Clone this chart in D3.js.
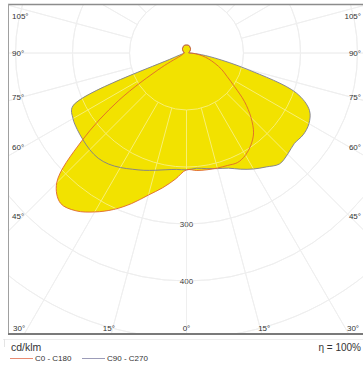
<!DOCTYPE html>
<html><head><meta charset="utf-8">
<script src="https://cdn.jsdelivr.net/npm/d3@7"></script>
<style>
html,body{margin:0;padding:0;background:#fff;}
svg{display:block;font-family:"Liberation Sans",Arial,sans-serif;}
</style></head>
<body>
<svg id="chart" width="363" height="365"></svg>
<script>
// Gamma angles (deg from nadir)
const gammas = [0,5,10,15,20,25,30,35,40,45,50,55,60,65,70,75,80,85,90,
  95,100,105,110,115,120,125,130,135,140,145,150,155,160,165,170,175,180];
// Upper hemisphere (95..180) common values
const upper = [4,4,5,5,6,7,8,9,10,11,11,12,13,13,14,14,14,14];
// C0 (right half of C0-C180)
const c0 = [205,207,208,209,210,212,207,197,183,160,133,103,82,68,53,40,28,16,7].concat(upper);
// C180 (left half of C0-C180)
const c180 = [205,222,240,258,281,303,322,338,344,322,240,145,50,10,7,6,5,5,4].concat(upper);
// C90 (right half of C90-C270)
const c90 = [205,203,206,210,215,225,235,244,254,251,247,250,248,238,205,110,50,20,6].concat(upper);
// C270 (left half of C90-C270)
const c270 = [205,205,208,213,219,225,232,238,241,240,237,234,230,220,25,10,7,6,5].concat(upper);

const ringValues = [100,200,300,400,500];
const ringLabels = ["100","200","300","400","500"];
const sideAngles = [105,90,75,60,45];
const sideLabels = ["105°","90°","75°","60°","45°"];
const bottomAngles = [30,15,0];
const bottomLabels = ["30°","15°","0°"];
const seriesNames = ["C0 - C180","C90 - C270"];
const unitLabel = "cd/klm";
const effLabel = "η = 100%";

const svg = d3.select("#chart");
const cx = 186.5, cy = 53;
const box = {x0:8, y0:5, x1:366, y1:334};
const r = d3.scaleLinear().domain([0,100]).range([0,57]);
const rad = d => d*Math.PI/180;

const defs = svg.append("defs");
defs.append("clipPath").attr("id","clipBox").append("rect")
  .attr("x",box.x0).attr("y",box.y0).attr("width",box.x1-box.x0).attr("height",box.y1-box.y0);

const root = svg.append("g").attr("clip-path","url(#clipBox)");
const g = root.append("g").attr("transform",`translate(${cx},${cy})`);

function drawGrid(sel, color, width, opacity){
  const gg = sel.append("g").attr("fill","none").attr("stroke",color)
    .attr("stroke-width",width).attr("opacity",opacity);
  gg.selectAll("circle").data(ringValues).join("circle").attr("r",d=>r(d));
  const rayAngles = d3.range(0,360,15);
  gg.selectAll("line").data(rayAngles).join("line")
    .attr("x1",a=>r(100)*Math.sin(rad(a))).attr("y1",a=>r(100)*Math.cos(rad(a)))
    .attr("x2",a=>700*Math.sin(rad(a))).attr("y2",a=>700*Math.cos(rad(a)));
}
drawGrid(g,"#e2e2e2",1,1);

// ring labels under fill
g.selectAll("text.ring").data(ringValues).join("text").attr("class","ring")
  .attr("x",0).attr("y",d=>r(d)).attr("dy","0.35em")
  .attr("text-anchor","middle").attr("font-size",8).attr("fill","#333")
  .text((d,i)=>ringLabels[i]);

function planePoints(right,left){
  const pts = [];
  gammas.forEach((gm,i)=>pts.push([Math.PI - rad(gm), r(right[i])]));
  for(let i=gammas.length-2;i>=1;i--) pts.push([Math.PI + rad(gammas[i]), r(left[i])]);
  return pts;
}
const line = d3.lineRadial().angle(d=>d[0]).radius(d=>d[1]).curve(d3.curveCatmullRomClosed.alpha(0.5));
const p1 = planePoints(c0,c180), p2 = planePoints(c90,c270);

g.append("path").attr("d",line(p1)).attr("fill","#f2e200").attr("stroke","none");
g.append("path").attr("d",line(p2)).attr("fill","#f2e200").attr("stroke","none");

drawGrid(g,"#ffffff",1,0.45);

g.append("path").attr("d",line(p2)).attr("fill","none").attr("stroke","#7c7c92").attr("stroke-width",0.9);
g.append("path").attr("d",line(p1)).attr("fill","none").attr("stroke","#e0662e").attr("stroke-width",0.9);

// angle labels
const lab = svg.append("g").attr("font-size",8).attr("fill","#333");
sideAngles.forEach((a,i)=>{
  let y = cy + 163.5/Math.tan(rad(a));
  y = Math.max(y,16);
  lab.append("text").attr("x",12).attr("y",y).attr("dy","0.35em").attr("text-anchor","start").text(sideLabels[i]);
  lab.append("text").attr("x",361).attr("y",y).attr("dy","0.35em").attr("text-anchor","end").text(sideLabels[i]);
});
bottomAngles.forEach((a,i)=>{
  const dx = 290*Math.tan(rad(a));
  if(a===0){
    lab.append("text").attr("x",cx).attr("y",328).attr("dy","0.35em").attr("text-anchor","middle").text(bottomLabels[i]);
  } else {
    lab.append("text").attr("x",Math.max(cx-dx,19)).attr("y",328).attr("dy","0.35em").attr("text-anchor","middle").text(bottomLabels[i]);
    lab.append("text").attr("x",Math.min(cx+dx,353)).attr("y",328).attr("dy","0.35em").attr("text-anchor","middle").text(bottomLabels[i]);
  }
});

// frame
svg.append("line").attr("x1",box.x0).attr("x2",363).attr("y1",4.5).attr("y2",4.5).attr("stroke","#8c8c8c").attr("stroke-width",1.5);
svg.append("line").attr("x1",8.5).attr("x2",8.5).attr("y1",4).attr("y2",334).attr("stroke","#a0a0a0").attr("stroke-width",1);
svg.append("line").attr("x1",8).attr("x2",363).attr("y1",334).attr("y2",334).attr("stroke","#7a7a7a").attr("stroke-width",2);
svg.append("line").attr("x1",3).attr("x2",363).attr("y1",339.5).attr("y2",339.5).attr("stroke","#eeeeee").attr("stroke-width",1);
svg.append("line").attr("x1",4.5).attr("x2",4.5).attr("y1",339).attr("y2",347).attr("stroke","#e4e4e4").attr("stroke-width",1);

// legend
svg.append("text").attr("x",11).attr("y",351).attr("font-size",10.5).attr("fill","#333").text(unitLabel);
const legColors = ["#e88a70","#9c9cb8"];
const legX = [10,82];
seriesNames.forEach((s,i)=>{
  svg.append("line").attr("x1",legX[i]).attr("x2",legX[i]+23).attr("y1",358.5).attr("y2",358.5)
    .attr("stroke",legColors[i]).attr("stroke-width",1);
  svg.append("text").attr("x",legX[i]+25).attr("y",358).attr("dy","0.35em").attr("font-size",8).attr("fill","#333").text(s);
});
svg.append("text").attr("x",361).attr("y",347).attr("dy","0.35em").attr("text-anchor","end")
  .attr("font-size",10).attr("fill","#333").text(effLabel);
</script>
</body></html>
